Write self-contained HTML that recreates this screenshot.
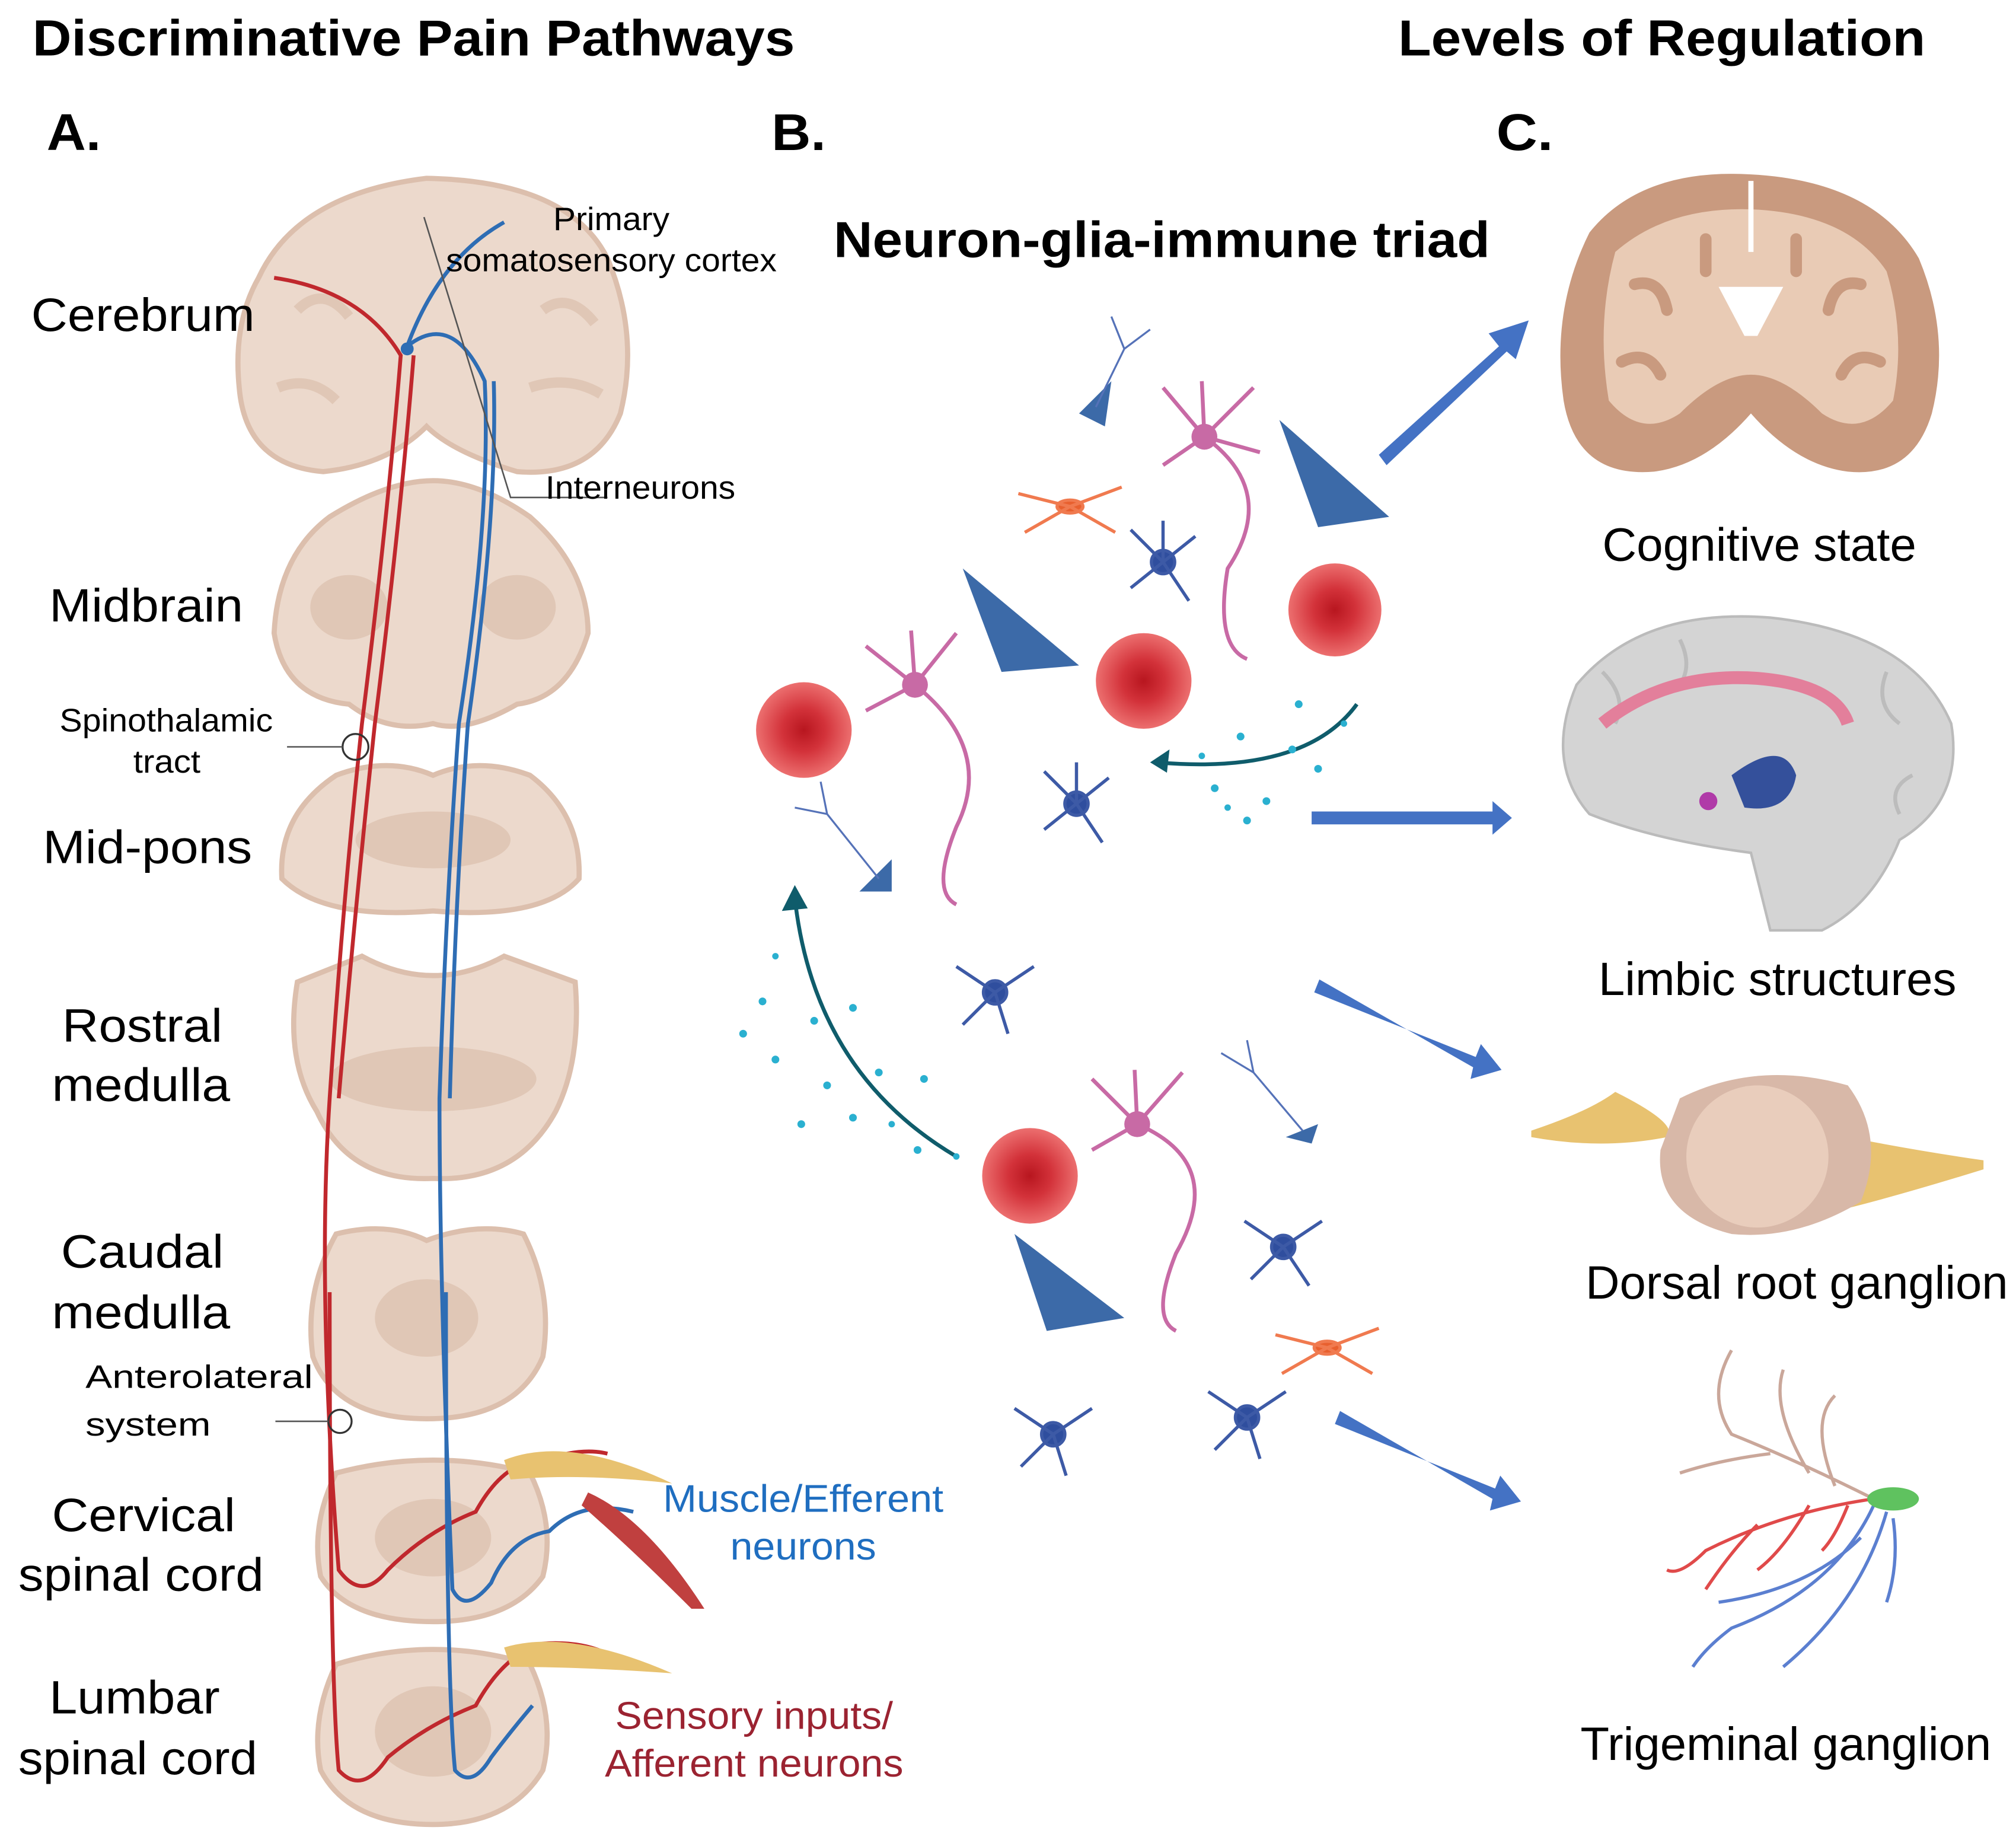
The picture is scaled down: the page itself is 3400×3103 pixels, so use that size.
<!DOCTYPE html>
<html><head><meta charset="utf-8"><style>
html,body{margin:0;padding:0;background:#fff}
svg{display:block}
text{font-family:"Liberation Sans",Arial,sans-serif}
</style></head><body>
<svg width="3400" height="3103" viewBox="0 0 1560 1424" xmlns="http://www.w3.org/2000/svg">
<defs>
<radialGradient id="rc" cx="50%" cy="50%" r="50%"><stop offset="0" stop-color="#b8161f"/><stop offset=".45" stop-color="#d3323a"/><stop offset="1" stop-color="#ec6f6f"/></radialGradient>
</defs>
<!-- Titles -->
<g font-weight="bold" lengthAdjust="spacingAndGlyphs">
<text x="25" y="43" font-size="39" textLength="590" lengthAdjust="spacingAndGlyphs">Discriminative Pain Pathways</text>
<text x="1082" y="43" font-size="39" textLength="408" lengthAdjust="spacingAndGlyphs">Levels of Regulation</text>
<text x="36" y="116" font-size="40" textLength="42" lengthAdjust="spacingAndGlyphs">A.</text>
<text x="597" y="116" font-size="40" textLength="42" lengthAdjust="spacingAndGlyphs">B.</text>
<text x="1158" y="116" font-size="40" textLength="44" lengthAdjust="spacingAndGlyphs">C.</text>
<text x="645" y="199" font-size="39" textLength="508" lengthAdjust="spacingAndGlyphs">Neuron-glia-immune triad</text>
</g>

<!-- Panel A brain sections -->
<g fill="#ecd9cc" stroke="#dcbfad" stroke-width="4">
<path d="M200,215 Q230,150 330,138 Q440,140 470,200 Q495,260 480,320 Q460,370 400,365 Q350,350 330,330 Q300,360 250,365 Q190,360 185,300 Q180,250 200,215Z"/>
<path d="M255,400 Q300,372 335,372 Q370,372 410,400 Q455,440 455,490 Q440,540 400,545 Q360,568 335,560 Q300,568 270,545 Q220,540 212,490 Q215,430 255,400Z"/>
<path d="M260,600 Q300,585 335,600 Q370,585 410,600 Q450,630 448,680 Q420,712 335,705 Q250,712 218,680 Q215,630 260,600Z"/>
<path d="M230,760 L280,740 Q335,770 390,740 L445,760 Q450,820 430,860 Q400,915 335,912 Q270,915 245,860 Q220,820 230,760Z"/>
<path d="M260,955 Q300,945 330,960 Q370,945 405,955 Q428,1000 420,1050 Q400,1098 330,1098 Q260,1098 242,1050 Q235,1000 260,955Z"/>
<path d="M260,1140 Q335,1120 410,1140 Q430,1180 420,1220 Q395,1255 335,1255 Q270,1255 248,1220 Q240,1180 260,1140Z"/>
<path d="M260,1288 Q335,1265 410,1288 Q430,1330 420,1370 Q395,1412 335,1412 Q270,1412 248,1370 Q240,1330 260,1288Z"/>
</g>
<g fill="#dcbfad" opacity=".7">
<ellipse cx="270" cy="470" rx="30" ry="25"/><ellipse cx="400" cy="470" rx="30" ry="25"/>
<ellipse cx="335" cy="650" rx="60" ry="22"/><ellipse cx="335" cy="835" rx="80" ry="25"/>
<ellipse cx="330" cy="1020" rx="40" ry="30"/><ellipse cx="335" cy="1190" rx="45" ry="30"/><ellipse cx="335" cy="1340" rx="45" ry="35"/>
<path d="M230,240 Q250,220 270,245 M420,240 Q440,225 460,250 M215,300 Q240,290 260,310 M410,300 Q440,290 465,305" stroke="#dcbfad" stroke-width="8" fill="none"/>
</g>
<!-- Red pathway -->
<g fill="none" stroke="#c0282d" stroke-width="3">
<path d="M212,215 Q280,225 310,275 Q300,400 280,560 Q265,700 255,850 Q245,1000 262,1215 Q280,1240 300,1215 Q330,1185 368,1170 Q390,1130 420,1130 Q450,1120 470,1125"/>
<path d="M320,275 Q310,400 290,560 Q275,700 262,850"/>
<path d="M255,1000 Q255,1300 262,1370 Q280,1390 300,1360 Q330,1335 368,1320 Q390,1280 420,1272 Q450,1270 470,1280"/>
</g>
<!-- Blue pathway -->
<g fill="none" stroke="#2e6db4" stroke-width="3">
<path d="M390,172 Q340,200 315,268 Q350,240 375,295 Q380,400 355,560 Q345,700 340,850 Q340,1000 350,1230 Q360,1250 380,1225 Q395,1190 425,1185 Q450,1160 490,1170"/>
<path d="M382,295 Q385,400 362,560 Q352,700 348,850"/>
<path d="M345,1000 Q345,1300 352,1370 Q365,1385 380,1360 Q395,1340 412,1320"/>
</g>
<circle cx="315" cy="270" r="5" fill="#2e6db4"/>
<circle cx="275" cy="578" r="10" fill="none" stroke="#333" stroke-width="1.5"/>
<circle cx="263" cy="1100" r="9" fill="none" stroke="#333" stroke-width="1.5"/>
<g stroke="#555" stroke-width="1.2" fill="none">
<path d="M222,578 L265,578"/><path d="M213,1100 L254,1100"/>
<path d="M328,168 L395,385 L470,385"/>
</g>
<!-- Muscle and sensory -->
<path d="M455,1155 Q500,1175 545,1245 L535,1245 Q490,1200 450,1165Z" fill="#c0403f"/>
<path d="M390,1130 Q440,1110 520,1148 Q450,1140 395,1145Z" fill="#e8c270"/>
<path d="M390,1275 Q440,1260 520,1295 Q450,1290 395,1290Z" fill="#e8c270"/>

<!-- Labels A -->
<g font-size="36">
<text x="24" y="256" textLength="173" lengthAdjust="spacingAndGlyphs">Cerebrum</text>
<text x="38" y="481" textLength="150" lengthAdjust="spacingAndGlyphs">Midbrain</text>
<text x="33" y="668" textLength="162" lengthAdjust="spacingAndGlyphs">Mid-pons</text>
<text x="48" y="806" textLength="124" lengthAdjust="spacingAndGlyphs">Rostral</text><text x="40" y="852" textLength="138" lengthAdjust="spacingAndGlyphs">medulla</text>
<text x="47" y="981" textLength="126" lengthAdjust="spacingAndGlyphs">Caudal</text><text x="40" y="1028" textLength="138" lengthAdjust="spacingAndGlyphs">medulla</text>
<text x="40" y="1185" textLength="142" lengthAdjust="spacingAndGlyphs">Cervical</text><text x="14" y="1231" textLength="190" lengthAdjust="spacingAndGlyphs">spinal cord</text>
<text x="38" y="1326" textLength="132" lengthAdjust="spacingAndGlyphs">Lumbar</text><text x="14" y="1373" textLength="185" lengthAdjust="spacingAndGlyphs">spinal cord</text>
</g>
<g font-size="25">
<text x="46" y="566" textLength="165" lengthAdjust="spacingAndGlyphs">Spinothalamic</text><text x="103" y="598" textLength="52" lengthAdjust="spacingAndGlyphs">tract</text>
<text x="66" y="1074" textLength="176" lengthAdjust="spacingAndGlyphs">Anterolateral</text><text x="66" y="1111" textLength="97" lengthAdjust="spacingAndGlyphs">system</text>
<text x="428" y="178" textLength="90" lengthAdjust="spacingAndGlyphs">Primary</text><text x="345" y="210" textLength="256" lengthAdjust="spacingAndGlyphs">somatosensory cortex</text>
<text x="422" y="386" textLength="147" lengthAdjust="spacingAndGlyphs">Interneurons</text>
</g>
<g font-size="30">
<text x="513" y="1170" fill="#1f6ec0" textLength="217" lengthAdjust="spacingAndGlyphs">Muscle/Efferent</text><text x="565" y="1207" fill="#1f6ec0" textLength="113" lengthAdjust="spacingAndGlyphs">neurons</text>
<text x="476" y="1338" fill="#9b2331" textLength="215" lengthAdjust="spacingAndGlyphs">Sensory inputs/</text><text x="468" y="1375" fill="#9b2331" textLength="231" lengthAdjust="spacingAndGlyphs">Afferent neurons</text>
</g>

<!-- Panel B cells -->
<g fill="url(#rc)">
<circle cx="622" cy="565" r="37"/><circle cx="885" cy="527" r="37"/><circle cx="1033" cy="472" r="36"/><circle cx="797" cy="910" r="37"/>
</g>
<g fill="none" stroke="#c86aa5" stroke-width="3">
<path d="M932,338 Q990,380 950,440 Q940,500 965,510"/>
<path d="M708,530 Q770,580 740,640 Q720,690 740,700"/>
<path d="M880,870 Q950,900 910,970 Q890,1020 910,1030"/>
<path d="M900,300 L932,338 L970,300 M932,338 L900,360 M932,338 L975,350 M932,338 L930,295"/>
<path d="M670,500 L708,530 L740,490 M708,530 L670,550 M708,530 L705,488"/>
<path d="M845,835 L880,870 L915,830 M880,870 L845,890 M880,870 L878,828"/>
</g>
<g fill="#c86aa5"><circle cx="932" cy="338" r="10"/><circle cx="708" cy="530" r="10"/><circle cx="880" cy="870" r="10"/></g>
<g fill="#3c6aa8">
<path d="M990,325 L1075,400 L1020,408Z"/><path d="M745,440 L835,515 L775,520Z"/><path d="M785,955 L870,1020 L810,1030Z"/>
<path d="M835,320 L860,295 L855,330Z"/><path d="M665,690 L690,665 L690,690Z"/><path d="M995,880 L1020,870 L1015,885Z"/>
</g>
<g fill="none" stroke="#5572b8" stroke-width="1.5">
<path d="M848,315 L870,270 L860,245 M870,270 L890,255"/><path d="M680,680 L640,630 L615,625 M640,630 L635,605"/><path d="M1008,875 L970,830 L945,815 M970,830 L965,805"/>
</g>
<g stroke="#3d5aa6" stroke-width="2.5" fill="#2f4e9e">
<g transform="translate(900,435)"><circle r="9"/><path d="M0,0 L-25,-25 M0,0 L25,-20 M0,0 L-25,20 M0,0 L20,30 M0,0 L0,-32"/></g>
<g transform="translate(833,622)"><circle r="9"/><path d="M0,0 L-25,-25 M0,0 L25,-20 M0,0 L-25,20 M0,0 L20,30 M0,0 L0,-32"/></g>
<g transform="translate(770,768)"><circle r="9"/><path d="M0,0 L-30,-20 M0,0 L30,-20 M0,0 L-25,25 M0,0 L10,32"/></g>
<g transform="translate(993,965)"><circle r="9"/><path d="M0,0 L-30,-20 M0,0 L30,-20 M0,0 L-25,25 M0,0 L20,30"/></g>
<g transform="translate(965,1097)"><circle r="9"/><path d="M0,0 L-30,-20 M0,0 L30,-20 M0,0 L-25,25 M0,0 L10,32"/></g>
<g transform="translate(815,1110)"><circle r="9"/><path d="M0,0 L-30,-20 M0,0 L30,-20 M0,0 L-25,25 M0,0 L10,32"/></g>
</g>
<g stroke="#f07a4f" stroke-width="2.5" fill="#e8602f">
<g transform="translate(828,392)"><ellipse rx="10" ry="5"/><path d="M0,0 L-40,-10 M0,0 L-35,20 M0,0 L40,-15 M0,0 L35,20"/></g>
<g transform="translate(1027,1043)"><ellipse rx="10" ry="5"/><path d="M0,0 L-40,-10 M0,0 L-35,20 M0,0 L40,-15 M0,0 L35,20"/></g>
</g>
<g fill="none" stroke="#0f5c6b" stroke-width="3">
<path d="M1050,545 Q1010,600 895,590"/><path d="M740,895 Q630,830 615,695"/>
</g>
<path d="M890,590 L905,580 L903,598Z" fill="#0f5c6b"/><path d="M615,685 L605,705 L625,703Z" fill="#0f5c6b"/>
<g fill="#2ab0d0">
<circle cx="960" cy="570" r="3"/><circle cx="1000" cy="580" r="3"/><circle cx="940" cy="610" r="3"/><circle cx="980" cy="620" r="3"/><circle cx="1020" cy="595" r="3"/><circle cx="965" cy="635" r="3"/><circle cx="1005" cy="545" r="3"/><circle cx="930" cy="585" r="2.5"/><circle cx="950" cy="625" r="2.5"/><circle cx="1040" cy="560" r="2.5"/>
<circle cx="590" cy="775" r="3"/><circle cx="630" cy="790" r="3"/><circle cx="660" cy="780" r="3"/><circle cx="600" cy="820" r="3"/><circle cx="640" cy="840" r="3"/><circle cx="680" cy="830" r="3"/><circle cx="660" cy="865" r="3"/><circle cx="710" cy="890" r="3"/><circle cx="620" cy="870" r="3"/><circle cx="575" cy="800" r="3"/><circle cx="715" cy="835" r="3"/><circle cx="600" cy="740" r="2.5"/><circle cx="690" cy="870" r="2.5"/><circle cx="740" cy="895" r="2.5"/>
</g>

<!-- Blue arrows -->
<g fill="#4472c4">
<path d="M1067,352 L1160,268 L1152,258 L1183,248 L1173,278 L1166,272 L1073,360Z"/>
<path d="M1015,628 L1155,628 L1155,620 L1170,633 L1155,646 L1155,638 L1015,638Z"/>
<path d="M1017,768 L1142,818 L1146,808 L1162,828 L1138,835 L1140,826 L1021,758Z"/>
<path d="M1033,1102 L1157,1152 L1161,1142 L1177,1162 L1153,1169 L1155,1160 L1037,1092Z"/>
</g>

<!-- Panel C -->
<path d="M1230,180 Q1270,130 1355,135 Q1450,140 1485,200 Q1510,260 1495,320 Q1480,370 1430,365 Q1390,360 1355,320 Q1320,360 1280,365 Q1220,370 1210,310 Q1200,240 1230,180Z" fill="#c99a7f"/>
<path d="M1250,195 Q1290,160 1355,162 Q1430,165 1460,210 Q1475,260 1465,310 Q1440,340 1410,320 Q1380,290 1355,290 Q1330,290 1300,320 Q1270,340 1245,310 Q1235,250 1250,195Z" fill="#e9cbb5"/>
<g stroke="#c99a7f" stroke-width="9" fill="none" stroke-linecap="round">
<path d="M1265,220 Q1285,215 1290,240 M1440,220 Q1420,215 1415,240 M1255,280 Q1275,270 1285,290 M1455,280 Q1435,270 1425,290 M1320,185 L1320,210 M1390,185 L1390,210"/>
</g>
<path d="M1353,140 L1357,140 L1357,195 L1353,195Z" fill="#fff"/>
<path d="M1330,222 L1380,222 L1360,260 L1350,260Z" fill="#fff"/>
<path d="M1220,530 Q1270,470 1370,478 Q1480,490 1510,560 Q1520,620 1470,650 Q1450,700 1410,720 L1370,720 L1355,660 Q1280,650 1230,630 Q1195,590 1220,530Z" fill="#d4d4d4" stroke="#bbb" stroke-width="2"/>
<g stroke="#bcbcbc" stroke-width="3" fill="none"><path d="M1240,520 Q1260,540 1250,560 M1300,495 Q1310,515 1300,530 M1460,520 Q1450,545 1470,560 M1480,600 Q1460,610 1470,630"/></g>
<path d="M1240,560 Q1290,520 1360,525 Q1420,530 1430,560" fill="none" stroke="#e37f9b" stroke-width="10"/>
<path d="M1340,600 Q1380,570 1390,600 Q1385,630 1350,625Z" fill="#34509b"/>
<circle cx="1322" cy="620" r="7" fill="#b03aa8"/>
<path d="M1185,875 Q1230,860 1250,845 Q1300,870 1290,880 Q1240,890 1185,880Z" fill="#e8c270"/>
<path d="M1430,880 Q1480,890 1535,898 L1535,905 Q1470,925 1430,935Z" fill="#e8c270"/>
<path d="M1300,850 Q1360,820 1430,840 Q1460,880 1440,930 Q1390,960 1340,955 Q1280,940 1285,890Z" fill="#d8b8a8"/>
<ellipse cx="1360" cy="895" rx="55" ry="55" fill="#e9cdbc"/>
<g fill="none" stroke-width="2.5">
<path d="M1450,1160 Q1390,1130 1340,1110 Q1320,1080 1340,1045 M1400,1140 Q1370,1090 1380,1060 M1370,1125 Q1330,1130 1300,1140 M1420,1150 Q1400,1100 1420,1080" stroke="#caa79a"/>
<path d="M1450,1160 Q1380,1170 1320,1200 Q1300,1220 1290,1215 M1400,1165 Q1380,1200 1360,1215 M1360,1180 Q1340,1200 1320,1230 M1430,1165 Q1420,1190 1410,1200" stroke="#e04a4a"/>
<path d="M1450,1165 Q1420,1230 1340,1260 Q1320,1275 1310,1290 M1460,1170 Q1440,1240 1380,1290 M1440,1190 Q1400,1230 1330,1240 M1465,1175 Q1470,1210 1460,1240" stroke="#5b7fd0"/>
</g>
<ellipse cx="1465" cy="1160" rx="20" ry="9" fill="#5fc25f"/>
<g font-size="36">
<text x="1240" y="434" textLength="243" lengthAdjust="spacingAndGlyphs">Cognitive state</text>
<text x="1237" y="770" textLength="277" lengthAdjust="spacingAndGlyphs">Limbic structures</text>
<text x="1227" y="1005" textLength="327" lengthAdjust="spacingAndGlyphs">Dorsal root ganglion</text>
<text x="1223" y="1362" textLength="318" lengthAdjust="spacingAndGlyphs">Trigeminal ganglion</text>
</g>
</svg>
</body></html>
